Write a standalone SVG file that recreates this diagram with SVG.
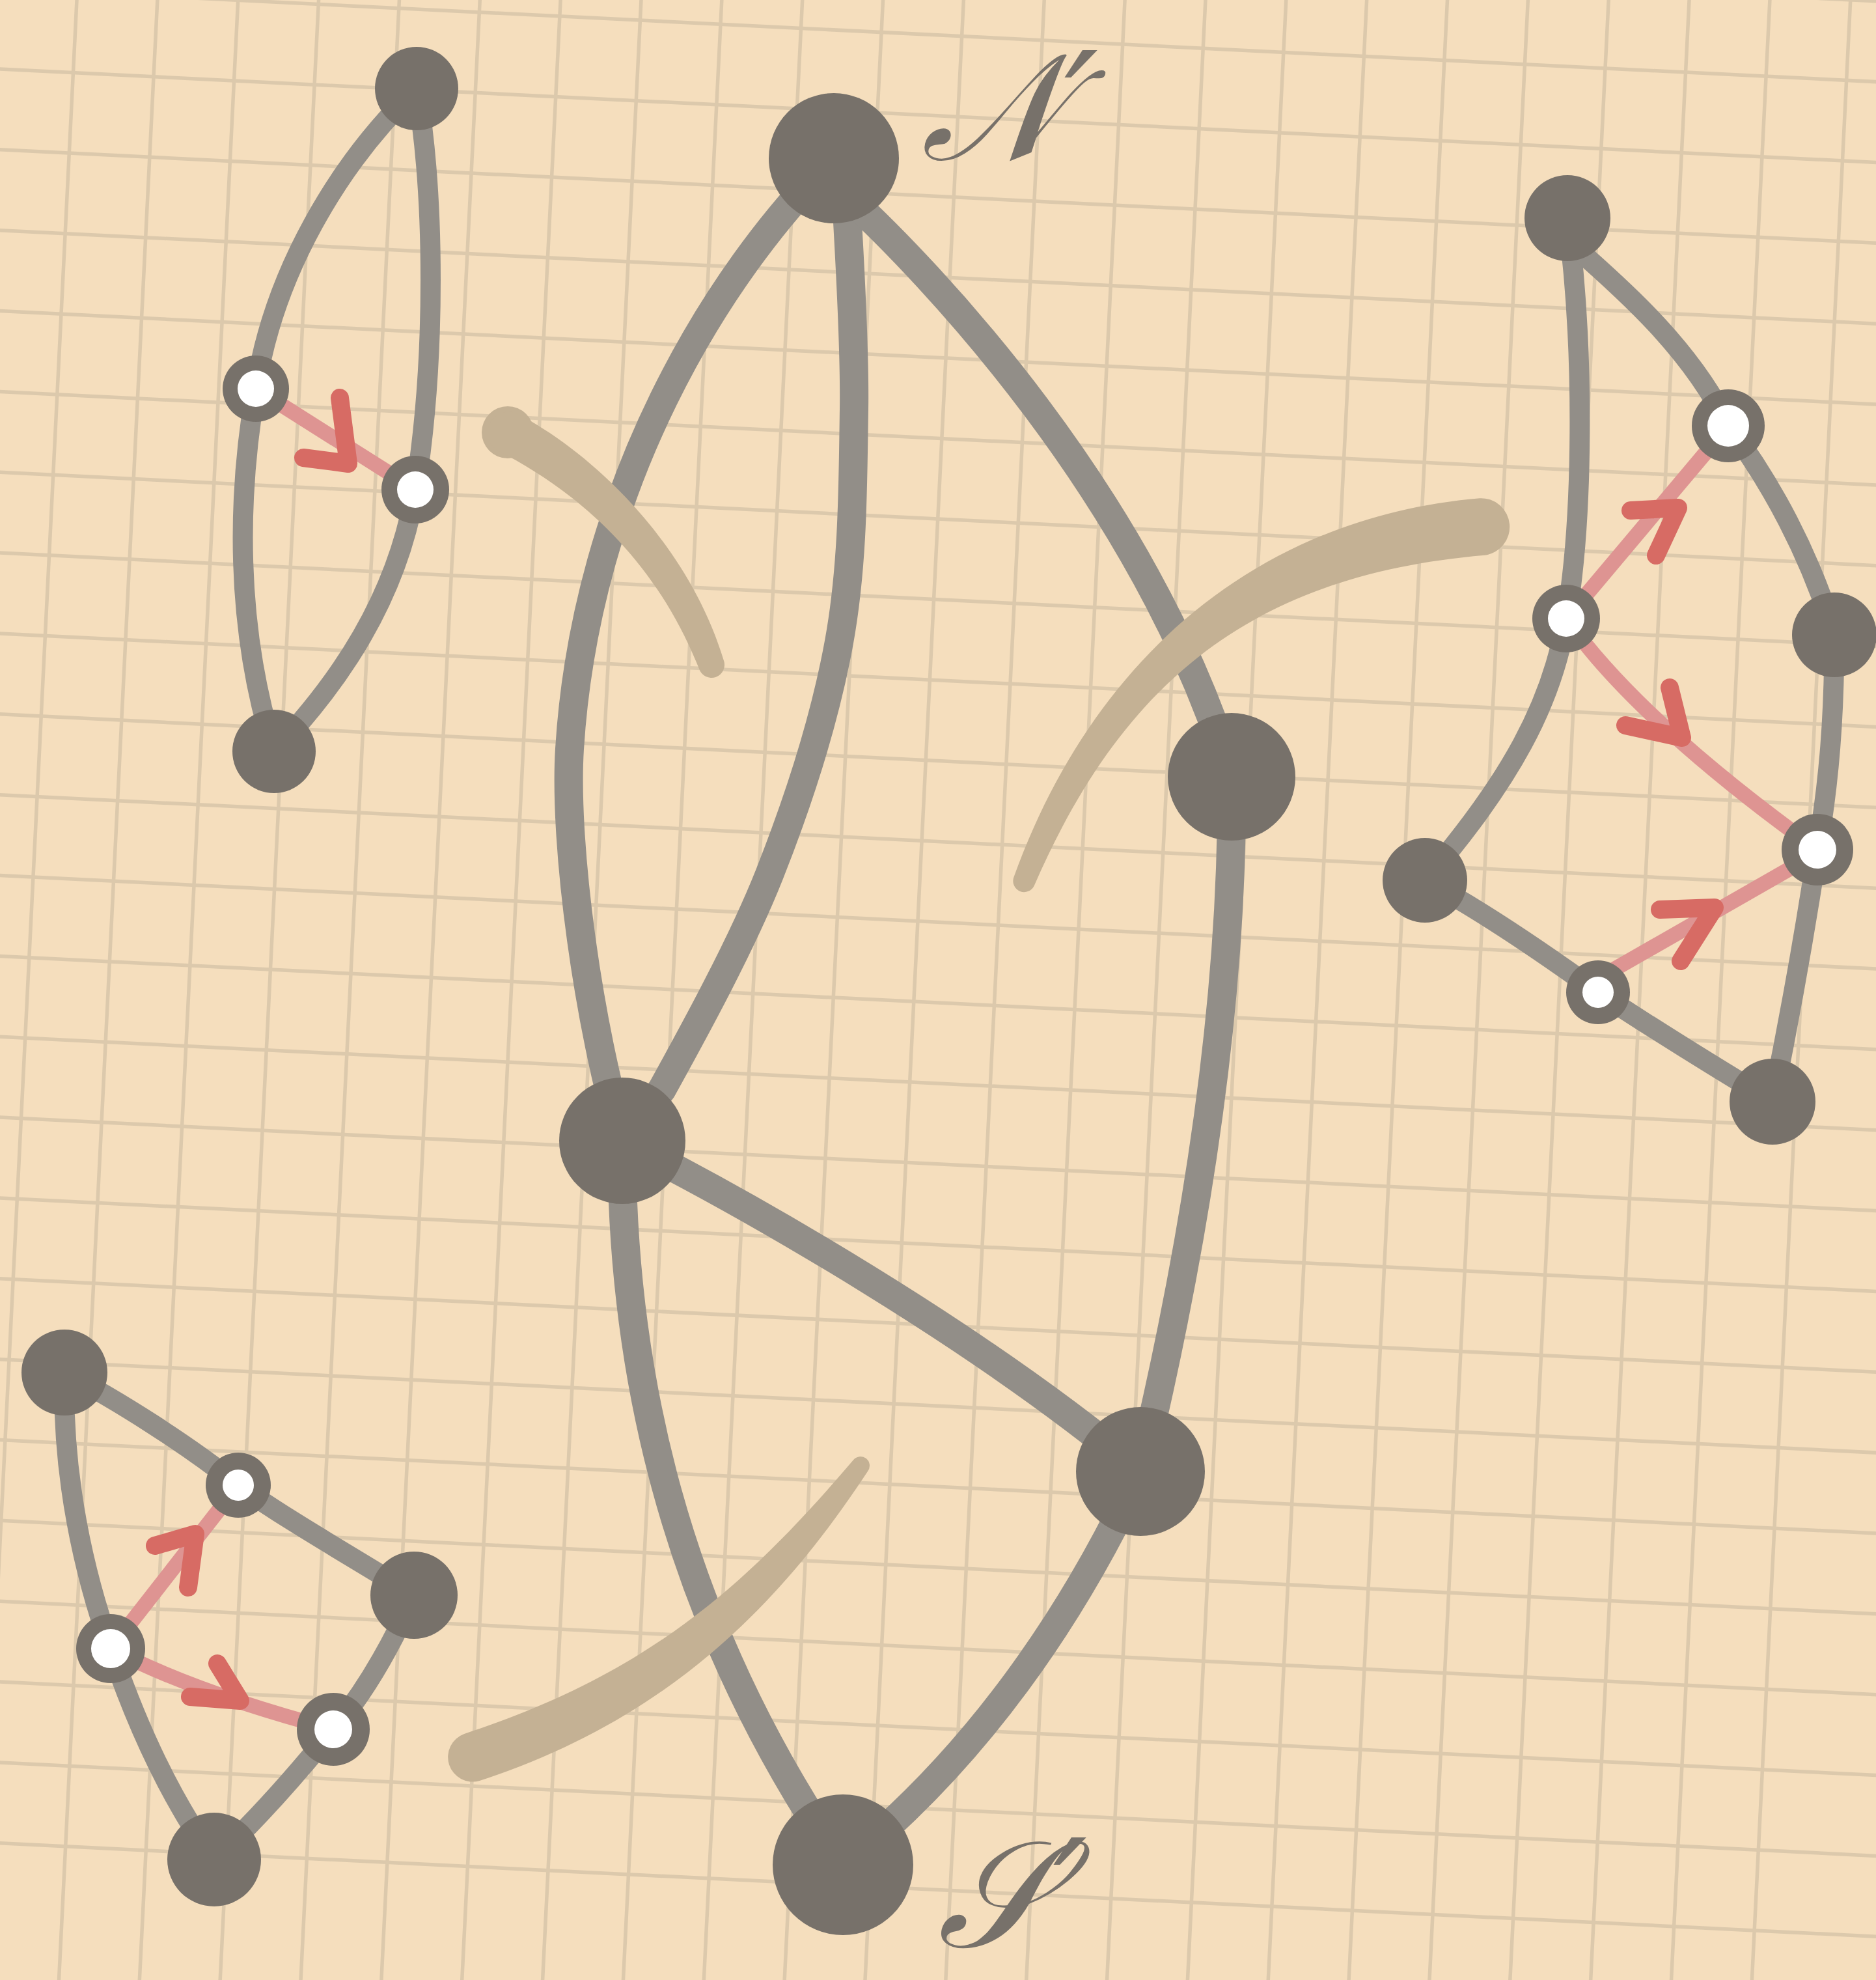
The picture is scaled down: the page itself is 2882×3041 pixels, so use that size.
<svg xmlns="http://www.w3.org/2000/svg" width="2882" height="3041" viewBox="0 0 2882 3041">
<style>
.grid{fill:none;stroke:#DCC9AC;stroke-width:5.5}
.e{fill:none;stroke:#928E88;stroke-linecap:round}
.em{stroke-width:44}
.es{stroke-width:31}
.p{fill:none;stroke:#DE9492;stroke-width:23;stroke-linecap:round}
.ah{fill:none;stroke:#D76B64;stroke-width:28;stroke-linecap:round;stroke-linejoin:round}
.n{fill:#77716A}
.w{fill:#FFFFFF}
.tan{fill:#C4B194}
.lbl{fill:#77716A;font-family:"DejaVu Serif","DejaVu Sans","Liberation Serif",serif;font-style:italic}
</style>
<rect x="0" y="0" width="2882" height="3041" fill="#F5DEBD"/>
<g id="grid" transform="rotate(2.85)">
<path class="grid" d="M-5.85,-200 v3400 m123.7,-3400 v3400 m123.7,-3400 v3400 m123.7,-3400 v3400 m123.7,-3400 v3400 m123.7,-3400 v3400 m123.7,-3400 v3400 m123.7,-3400 v3400 m123.7,-3400 v3400 m123.7,-3400 v3400 m123.7,-3400 v3400 m123.7,-3400 v3400 m123.7,-3400 v3400 m123.7,-3400 v3400 m123.7,-3400 v3400 m123.7,-3400 v3400 m123.7,-3400 v3400 m123.7,-3400 v3400 m123.7,-3400 v3400 m123.7,-3400 v3400 m123.7,-3400 v3400 m123.7,-3400 v3400 m123.7,-3400 v3400 m123.7,-3400 v3400"/>
<path class="grid" d="M-200,-141.53 h3400 m-3400,123.7 h3400 m-3400,123.7 h3400 m-3400,123.7 h3400 m-3400,123.7 h3400 m-3400,123.7 h3400 m-3400,123.7 h3400 m-3400,123.7 h3400 m-3400,123.7 h3400 m-3400,123.7 h3400 m-3400,123.7 h3400 m-3400,123.7 h3400 m-3400,123.7 h3400 m-3400,123.7 h3400 m-3400,123.7 h3400 m-3400,123.7 h3400 m-3400,123.7 h3400 m-3400,123.7 h3400 m-3400,123.7 h3400 m-3400,123.7 h3400 m-3400,123.7 h3400 m-3400,123.7 h3400 m-3400,123.7 h3400 m-3400,123.7 h3400 m-3400,123.7 h3400"/>
</g>
<g id="connectors">
<path class="e em" d="M1281,243 C1100,420 900,750 875,1150 C865.7,1299.7 905,1580 957,1752"/>
<path class="e em" d="M1290,250 L1300,300 C1302,354.8 1313.8,514.7 1312,629 C1310.2,743.3 1310.7,867 1289,986 C1267.3,1105 1227.3,1228.5 1182,1343 C1136.7,1457.5 1054.5,1604.8 1017,1673 L957,1752"/>
<path class="e em" d="M1300,300 C1420,410 1760,760 1892,1193"/>
<path class="e em" d="M1892,1193 C1895,1500 1850,1850 1752,2260"/>
<path class="e em" d="M955,1752 C1150,1850 1500,2050 1752,2260"/>
<path class="e em" d="M955,1752 C955,2050 1010,2450 1295,2864"/>
<path class="e em" d="M1752,2260 C1650,2480 1500,2700 1295,2864"/>
<path class="e es" d="M640,136 C520,250 420,420 393,597 C365,760 360,960 421,1154"/>
<path class="e es" d="M640,136 C668,300 670,550 638,752 C610,920 520,1050 421,1154"/>
<path class="e es" d="M2408,335 C2435,540 2432,800 2406,950 C2385,1080 2320,1200 2189,1352"/>
<path class="e es" d="M2408,335 L2420,380 C2500,450 2600,540 2655,654 C2720,740 2780,850 2818,975"/>
<path class="e es" d="M2818,975 C2818,1100 2810,1200 2792,1305 C2770,1450 2750,1560 2723,1692"/>
<path class="e es" d="M2189,1352 C2280,1400 2380,1470 2455,1524 C2540,1580 2620,1630 2723,1692"/>
<path class="e es" d="M99,2108 C180,2150 290,2220 366,2281 C450,2340 540,2390 636,2450"/>
<path class="e es" d="M99,2108 C95,2270 130,2420 170,2532 C210,2650 260,2760 329,2856"/>
<path class="e es" d="M636,2450 C600,2530 560,2600 512,2656 C460,2720 400,2790 329,2856"/>
<path class="p" d="M393,597 L638,752"/>
<path class="p" d="M2406,950 L2655,654"/>
<path class="p" d="M2406,950 Q2515,1105 2792,1305"/>
<path class="p" d="M2460,1500 L2792,1310"/>
<path class="p" d="M170,2532 L366,2281"/>
<path class="p" d="M170,2532 Q300,2600 512,2656"/>
<path class="ah" d="M522,611 L535,712 L466,703"/>
<path class="ah" d="M2505,784 L2578,780 L2544,853"/>
<path class="ah" d="M2565,1056 L2584,1133 L2497,1114"/>
<path class="ah" d="M2550,1397 L2634,1394 L2582,1476"/>
<path class="ah" d="M238,2374 L300,2356 L289,2438"/>
<path class="ah" d="M334,2555 L369,2612 L292,2606"/>
</g>
<g id="strokes">
<circle class="tan" cx="780" cy="664" r="40"/>
<path class="tan" d="M794.5,635.5 C904.5,691.5 1056.4,830.8 1111.9,1014.4 A20,20 0 0 1 1074.1,1027.6 C1003.6,849.2 875.5,748.5 765.5,692.5 A32,32 0 0 1 794.5,635.5 Z"/>
<path class="tan" d="M2273.2,765.2 C1924.2,795.2 1675.6,1019 1557.2,1347.8 A17,17 0 0 0 1588.8,1360.2 C1728,1039.6 1931.8,882.8 2280.8,852.8 A44,44 0 0 0 2273.2,765.2 Z"/>
<path class="tan" d="M713.2,2662.9 C998.2,2569.9 1148,2433 1310.8,2242.6 A14,14 0 0 1 1333.2,2259.4 C1196,2469 1021.8,2642.1 736.8,2735.1 A38,38 0 0 1 713.2,2662.9 Z"/>
</g>
<g id="node-N"><circle class="n" cx="1281" cy="243" r="100"/></g>
<g id="node-R"><circle class="n" cx="1892" cy="1193" r="98"/></g>
<g id="node-LM"><circle class="n" cx="956" cy="1752" r="97"/></g>
<g id="node-LR"><circle class="n" cx="1752" cy="2260" r="99"/></g>
<g id="node-S"><circle class="n" cx="1295" cy="2864" r="108"/></g>
<g id="tl-top"><circle class="n" cx="640" cy="136" r="64"/></g>
<g id="tl-bottom"><circle class="n" cx="421" cy="1154" r="64"/></g>
<g id="tl-a"><circle class="n" cx="393" cy="597" r="51"/><circle class="w" cx="393" cy="597" r="28"/></g>
<g id="tl-b"><circle class="n" cx="638" cy="752" r="52"/><circle class="w" cx="638" cy="752" r="28"/></g>
<g id="tr-top"><circle class="n" cx="2408" cy="335" r="66"/></g>
<g id="tr-right"><circle class="n" cx="2818" cy="975" r="65"/></g>
<g id="tr-left"><circle class="n" cx="2189" cy="1352" r="65"/></g>
<g id="tr-bottom"><circle class="n" cx="2723" cy="1692" r="66"/></g>
<g id="tr-c"><circle class="n" cx="2655" cy="654" r="56"/><circle class="w" cx="2655" cy="654" r="32"/></g>
<g id="tr-d"><circle class="n" cx="2406" cy="950" r="52"/><circle class="w" cx="2406" cy="950" r="28"/></g>
<g id="tr-e"><circle class="n" cx="2792" cy="1305" r="55"/><circle class="w" cx="2792" cy="1305" r="29"/></g>
<g id="tr-f"><circle class="n" cx="2455" cy="1524" r="49"/><circle class="w" cx="2455" cy="1524" r="24"/></g>
<g id="bl-top"><circle class="n" cx="99" cy="2108" r="66"/></g>
<g id="bl-right"><circle class="n" cx="636" cy="2450" r="67"/></g>
<g id="bl-bottom"><circle class="n" cx="329" cy="2856" r="72"/></g>
<g id="bl-g"><circle class="n" cx="366" cy="2281" r="50"/><circle class="w" cx="366" cy="2281" r="24"/></g>
<g id="bl-h"><circle class="n" cx="170" cy="2532" r="53"/><circle class="w" cx="170" cy="2532" r="30"/></g>
<g id="bl-i"><circle class="n" cx="512" cy="2656" r="56"/><circle class="w" cx="512" cy="2656" r="29"/></g>
<g id="label-N"><text class="lbl" x="1415" y="245" font-size="230">𝒩′</text></g>
<g id="label-S"><text class="lbl" x="1440" y="2990" font-size="230">𝒮′</text></g>
</svg>
